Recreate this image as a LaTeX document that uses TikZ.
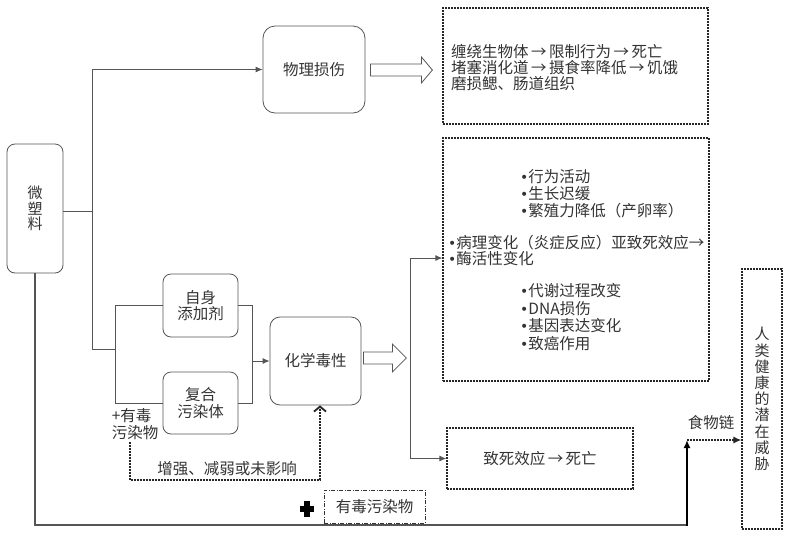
\documentclass[tikz,border=0pt]{standalone}
\usepackage{fontspec}
\setmainfont{Noto Sans CJK SC}
\newfontfamily\dvs{DejaVu Sans}
\newcommand\bul{{\dvs\fontsize{14}{14}\selectfont •}}
\newcommand\arr{\kern2.5pt→\kern2.5pt}
\newcommand\tightls{\lineskiplimit=-20pt\relax}
\newcommand\fs[2]{\fontsize{#1}{#2}\selectfont\tightls}
\usetikzlibrary{arrows.meta,calc}
\definecolor{txt}{HTML}{333333}
\definecolor{ln}{HTML}{555555}
\begin{document}
\begin{tikzpicture}[x=1pt,y=-1pt,
  font={\fs{15.5}{16.5}}, text=txt,
  rbox/.style={draw=ln, line width=0.8pt, rounded corners=#1, align=center, inner sep=0pt},
  rbox/.default=10pt,
  dbox/.style={draw=black!85, line width=1.3pt, dash pattern=on 2pt off 1pt, inner sep=0pt, align=center},
  ddbox/.style={draw=black!80, line width=1pt, dash pattern=on 4pt off 1.5pt on 1pt off 1.5pt, inner sep=0pt},
  conn/.style={draw=ln, line width=0.8pt},
  tip/.style={-{Latex[length=7pt,width=6pt]}},
  hollow/.style={draw=ln, line width=0.8pt, fill=white},
  dline/.style={draw=black!85, line width=1.2pt, dash pattern=on 2pt off 1pt},
  txtblk/.style={anchor=west, align=left, inner sep=0pt},
  ]
\useasboundingbox (0,0) rectangle (790,539);

% nodes
\node[rbox=8pt, minimum width=56pt, minimum height=129pt, font={\fs{15}{15.5}}] (micro) at (35,208.5) {微\\塑\\料};
\node[rbox=12pt, minimum width=102pt, minimum height=87pt] (phys) at (314,69.5) {物理损伤};
\node[dbox, minimum width=265pt, minimum height=116pt] (topbox) at (575.5,66) {};
\node[txtblk, font={\fs{15.5}{15.7}}] (toptext) at (451,67.5) {缠绕生物体\arr 限制行为\arr 死亡\\堵塞消化道\arr 摄食率降低\arr 饥饿\\磨损鳃、肠道组织};

\node[dbox, minimum width=266pt, minimum height=243pt] (midbox) at (576,259.5) {};
\node[txtblk, font={\fs{15.5}{17}}] (g1) at (520,194) {\bul 行为活动\\\bul 生长迟缓\\\bul 繁殖力降低（产卵率）};
\node[txtblk, font={\fs{15.5}{16}}] (g2) at (448,250) {\bul 病理变化（炎症反应）亚致死效应→\\\bul 酶活性变化};
\node[txtblk, font={\fs{15.5}{17.6}}] (g3) at (520,317) {\bul 代谢过程改变\\\bul DNA损伤\\\bul 基因表达变化\\\bul 致癌作用};

\node[rbox=8pt, minimum width=75pt, minimum height=63pt] (self) at (200.5,305.5) {自身\\添加剂};
\node[rbox=8pt, minimum width=75pt, minimum height=62pt] (comp) at (200.5,403) {复合\\污染体};
\node[rbox=10pt, minimum width=91pt, minimum height=88pt] (chem) at (315.5,361) {化学毒性};
\node[dbox, minimum width=186pt, minimum height=61pt] (lethal) at (540,458.5) {致死效应\arr 死亡};
\node[dbox, minimum width=40pt, minimum height=260pt, font={\fs{15}{16.2}}] (human) at (762,399) {人\\类\\健\\康\\的\\潜\\在\\威\\胁};
\node[ddbox, minimum width=101pt, minimum height=33pt] (toxic) at (374.5,506.5) {有毒污染物};
\node[align=left, inner sep=0pt] (addtox) at (135,424) {+有毒\\污染物};
\node[inner sep=0pt] (enh) at (227,469) {增强、减弱或未影响};
\node[inner sep=0pt] (food) at (711,423) {食物链};

% plus sign
\coordinate (plus) at (307,509);
\fill[black] ([shift={(-7,-2.6)}]plus) rectangle ([shift={(7,2.6)}]plus);
\fill[black] ([shift={(-2.6,-8)}]plus) rectangle ([shift={(2.6,8)}]plus);

% left bus
\coordinate (busL) at (92,211);
\coordinate (b1) at (92,349);
\coordinate (b2) at (115,349);
\coordinate (b3) at (252,361);
\draw[conn] (micro.east |- busL) -- (busL);
\draw[conn, tip] (busL |- phys.west) -- (phys.west);
\draw[conn] (busL |- phys.west) -- (b1) -- (b2);
\draw[conn] (b2 |- self.west) -- (b2 |- comp.west);
\draw[conn] (b2 |- self.west) -- (self.west);
\draw[conn] (b2 |- comp.west) -- (comp.west);
\draw[conn] (self.east) -- (self.east -| b3) -- (comp.east -| b3) -- (comp.east);
\draw[conn, tip] (b3 |- chem.west) -- (chem.west);

% hollow arrows
\coordinate (ha1) at ($(phys.east)+(5,0.5)$);
\draw[hollow] (ha1) ++(0,-6) -- ++(51,0) -- ++(0,-7) -- ++(11,13) -- ++(-11,13) -- ++(0,-7) -- ++(-51,0) -- cycle;
\coordinate (ha2) at ($(chem.east)+(2,-3)$);
\draw[hollow] (ha2) ++(0,-6) -- ++(29,0) -- ++(0,-8) -- ++(14,14) -- ++(-14,14) -- ++(0,-8) -- ++(-29,0) -- cycle;

% split to mid box and lethal box
\coordinate (v1) at (410,258);
\draw[conn, tip] (v1) -- (v1 -| midbox.west);
\draw[conn, tip] (v1) -- (v1 |- lethal.west) -- (lethal.west);

% dashed influence
\coordinate (dx) at (130,480);
\draw[dline, -{Straight Barb[length=5pt,width=12pt,line width=1.8pt]}] ($(addtox.south -| dx)+(0,2)$) -- (dx) -| ($(chem.south)+(4.5,0)$);

% bottom path and food chain
\coordinate (bl) at (687,525);
\coordinate (fj) at (687,440);
\draw[draw=ln, line width=1.3pt] (micro.south) |- (bl);
\draw[black, line width=2pt, -{Latex[length=8pt,width=7pt]}] ($(bl)+(0,1)$) -- (fj);
\draw[dline, -{Latex[length=8pt,width=7pt]}] (fj) -- (fj -| human.west);
\end{tikzpicture}
\end{document}
